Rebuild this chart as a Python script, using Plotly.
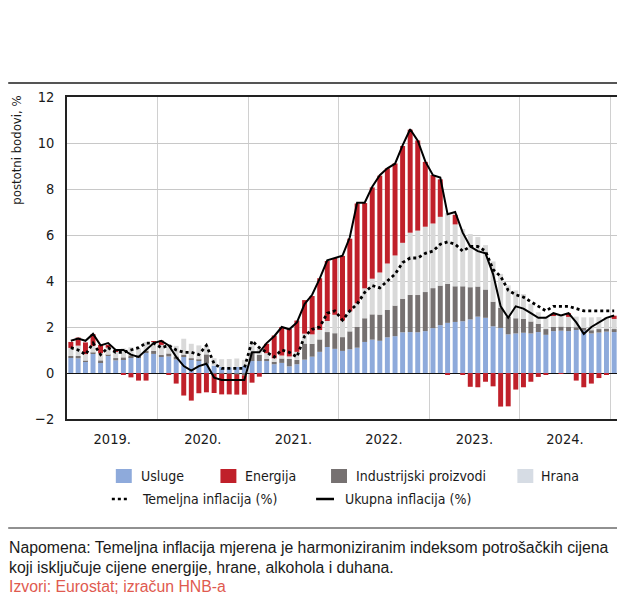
import plotly.graph_objects as go
import pandas as pd

# Monthly categories: Jan 2019 - Jan 2025
months = pd.date_range("2019-01-01", periods=73, freq="MS")

# Contributions to inflation, percentage points
usluge = [0.66, 0.64, 0.48, 0.84, 0.47, 0.74, 0.55, 0.60, 0.69, 0.69, 0.87, 0.83,
          0.70, 0.72, 0.59, 0.72, 0.59, 0.54, 0.41, 0.32, 0.26, 0.25, 0.27, 0.32,
          0.52, 0.52, 0.52, 0.38, 0.44, 0.29, 0.38, 0.58, 0.71, 0.92, 1.13, 1.05,
          0.96, 1.03, 1.10, 1.35, 1.45, 1.40, 1.55, 1.60, 1.77, 1.78, 1.77, 1.82,
          1.95, 2.08, 2.18, 2.22, 2.25, 2.33, 2.45, 2.40, 2.03, 1.96, 1.68, 1.72,
          1.75, 1.72, 1.78, 1.66, 1.82, 1.84, 1.82, 1.87, 1.84, 1.72, 1.76, 1.80,
          1.78]
energija = [0.26, 0.35, 0.51, 0.51, 0.36, 0.12, 0.05, -0.08, -0.19, -0.33, -0.33, 0.02,
            0.19, -0.08, -0.46, -0.98, -1.20, -0.88, -0.84, -0.84, -0.90, -0.90, -0.88, -0.84,
            -0.42, -0.16, 0.41, 0.99, 1.24, 1.20, 1.36, 1.46, 1.67, 2.25, 2.61, 2.47,
            2.81, 3.16, 4.34, 3.71, 3.97, 4.21, 4.14, 4.00, 4.21, 4.48, 3.92, 2.82,
            2.11, 1.63, -0.08, 0.42, -0.08, -0.60, -0.62, -0.38, -0.58, -1.46, -1.45, -0.72,
            -0.62, -0.38, -0.17, -0.07, 0.04, -0.03, 0.16, -0.33, -0.62, -0.46, -0.22, -0.05,
            0.14]
industrijski = [0.08, 0.10, 0.05, 0.05, 0.08, 0.05, 0.10, 0.08, 0.08, 0.08, 0.10, 0.13,
                0.08, 0.13, 0.13, 0.08, 0.05, 0.05, 0.40, -0.03, -0.03, -0.03, -0.06, -0.10,
                0.38, 0.27, 0.10, 0.11, 0.19, 0.32, 0.19, 0.70, 0.56, 0.54, 0.65, 0.68,
                0.60, 0.78, 0.90, 1.03, 1.10, 1.14, 1.19, 1.33, 1.46, 1.62, 1.62, 1.70,
                1.74, 1.72, 1.70, 1.55, 1.52, 1.40, 1.31, 1.23, 1.07, 0.88, 0.76, 0.66,
                0.60, 0.52, 0.36, 0.25, 0.18, 0.18, 0.18, 0.12, 0.12, 0.14, 0.15, 0.13,
                0.13]
hrana = [0.35, 0.45, 0.29, 0.29, 0.31, 0.31, 0.27, 0.39, 0.35, 0.29, 0.37, 0.39,
         0.44, 0.40, 0.46, 0.69, 0.63, 0.61, 0.38, 0.32, 0.34, 0.36, 0.36, 0.25,
         0.30, 0.28, 0.24, 0.15, 0.13, 0.11, 0.35, 0.43, 0.41, 0.41, 0.48, 0.80,
         0.72, 0.87, 1.03, 1.30, 1.55, 1.83, 2.02, 2.18, 2.43, 2.70, 2.80, 2.84,
         2.81, 2.99, 3.08, 2.69, 2.49, 2.31, 2.15, 1.93, 1.75, 1.47, 1.37, 1.21,
         1.08, 0.77, 0.50, 0.54, 0.50, 0.48, 0.44, 0.46, 0.46, 0.56, 0.52, 0.50,
         0.44]

# Inflation rates, %
temeljna = [1.1, 1.0, 0.8, 1.3, 0.8, 1.1, 0.9, 0.9, 1.0, 1.1, 1.3, 1.3,
            1.1, 1.2, 1.0, 0.9, 0.9, 0.8, 1.2, 0.4, 0.2, 0.2, 0.2, 0.2,
            1.4, 1.1, 0.9, 0.7, 1.0, 0.9, 0.7, 1.6, 1.9, 2.0, 2.6, 2.7,
            2.3, 2.7, 3.0, 3.5, 3.8, 3.7, 4.0, 4.3, 4.8, 5.0, 5.0, 5.2,
            5.3, 5.6, 5.7, 5.6, 5.3, 5.5, 5.5, 5.3, 4.5, 4.2, 3.6, 3.4,
            3.3, 3.1, 2.9, 2.7, 2.9, 2.9, 2.9, 2.8, 2.7, 2.7, 2.7, 2.7,
            2.7]
ukupna = [1.4, 1.5, 1.4, 1.7, 1.2, 1.3, 1.0, 1.0, 0.8, 0.7, 1.0, 1.3,
          1.4, 1.2, 0.7, 0.3, 0.1, 0.3, 0.4, -0.2, -0.3, -0.3, -0.3, -0.3,
          0.9, 0.9, 1.3, 1.6, 2.0, 1.9, 2.2, 3.0, 3.4, 4.1, 4.9, 5.0,
          5.1, 5.9, 7.4, 7.4, 8.1, 8.6, 8.9, 9.1, 9.9, 10.6, 10.1, 9.2,
          8.6, 8.5, 6.9, 7.0, 6.1, 5.5, 5.3, 5.2, 4.3, 2.9, 2.4, 2.9,
          2.8, 2.6, 2.4, 2.4, 2.6, 2.5, 2.6, 2.2, 1.7, 2.0, 2.2, 2.4,
          2.5]

y_ticks = [-2, 0, 2, 4, 6, 8, 10, 12]

C_USL = "#8eaadb"
C_ENE = "#c0202a"
C_IND = "#767171"
C_HRA = "#d9d9d9"

NARROW = "Liberation Sans Narrow, DejaVu Sans Condensed, Arial Narrow, sans-serif"
REG = "Liberation Sans, Arial, Helvetica, sans-serif"

BAR_W = 20 * 24 * 3600 * 1000  # bar width in ms

fig = go.Figure()
for name, vals, col in [("Usluge", usluge, C_USL),
                        ("Industrijski proizvodi", industrijski, C_IND),
                        ("Hrana", hrana, C_HRA),
                        ("Energija", energija, C_ENE)]:
    fig.add_bar(x=months, y=vals, name=name, marker_color=col, marker_line_width=0,
                xperiod="M1", xperiodalignment="middle", width=BAR_W)

fig.add_scatter(x=months, y=temeljna, name="Temeljna inflacija (%)", mode="lines",
                xperiod="M1", xperiodalignment="middle",
                line=dict(color="black", width=2.8, dash="dot"))
fig.add_scatter(x=months, y=ukupna, name="Ukupna inflacija (%)", mode="lines",
                xperiod="M1", xperiodalignment="middle",
                line=dict(color="black", width=2))

# page body has an 8px margin: figure coordinates are page coordinates minus OFF
OFF = 8
W, H = 617, 588
L, R, T, B = 67 - OFF, 5, 97 - OFF, 177
PW, PH = W - L - R, H - T - B


def px(x):
    return (x - OFF - L) / PW


def py(y):
    return (H - B - (y - OFF)) / PH


shapes = []
annotations = []

# horizontal rules
shapes.append(dict(type="line", xref="paper", yref="paper", x0=px(8), x1=px(620),
                   y0=py(83), y1=py(83), line=dict(color="#555555", width=2)))
shapes.append(dict(type="line", xref="paper", yref="paper", x0=px(8), x1=px(620),
                   y0=py(528), y1=py(528), line=dict(color="#222222", width=1)))

# custom legend
row1, row2 = 476, 499
LEG_FONT = dict(family=NARROW, size=14, color="#1a1a1a")
for x0, col, txt, tx in [(116, C_USL, "Usluge", 139), (221, C_ENE, "Energija", 244),
                         (332, C_IND, "Industrijski proizvodi", 355),
                         (519, "#d6dce4", "Hrana", 541)]:
    shapes.append(dict(type="rect", xref="paper", yref="paper", x0=px(x0), x1=px(x0 + 16),
                       y0=py(row1 - 7), y1=py(row1 + 7), fillcolor=col, line_width=0))
    annotations.append(dict(text=txt, xref="paper", yref="paper", x=px(tx), y=py(row1),
                            xanchor="left", yanchor="middle", showarrow=False, font=LEG_FONT))
shapes.append(dict(type="line", xref="paper", yref="paper", x0=px(112), x1=px(129),
                   y0=py(row2), y1=py(row2), line=dict(color="black", width=2.6, dash="dot")))
annotations.append(dict(text="Temeljna inflacija (%)", xref="paper", yref="paper",
                        x=px(140), y=py(row2), xanchor="left", yanchor="middle",
                        showarrow=False, font=LEG_FONT))
shapes.append(dict(type="line", xref="paper", yref="paper", x0=px(317), x1=px(335),
                   y0=py(row2), y1=py(row2), line=dict(color="black", width=2.5)))
annotations.append(dict(text="Ukupna inflacija (%)", xref="paper", yref="paper",
                        x=px(344), y=py(row2), xanchor="left", yanchor="middle",
                        showarrow=False, font=LEG_FONT))

# y-axis title
annotations.append(dict(text="postotni bodovi, %", xref="paper", yref="paper",
                        x=px(16), y=py(95), xanchor="center", yanchor="top",
                        textangle=-90, showarrow=False, borderpad=0,
                        font=dict(family=NARROW, size=13, color="#1a1a1a")))

# notes
for txt, yy, col in [("Napomena: Temeljna inflacija mjerena je harmoniziranim indeksom potrošačkih cijena", 547, "#1a1a1a"),
                     ("koji isključuje cijene energije, hrane, alkohola i duhana.", 567, "#1a1a1a"),
                     ("Izvori: Eurostat; izračun HNB-a", 586, "#e05a4f")]:
    annotations.append(dict(text=txt, xref="paper", yref="paper", x=px(8), y=py(yy),
                            xanchor="left", yanchor="middle", showarrow=False, borderpad=0,
                            font=dict(family=REG, size=15.8, color=col)))

fig.update_layout(
    width=W, height=H,
    margin=dict(l=L, r=R, t=T, b=B, pad=0),
    paper_bgcolor="white", plot_bgcolor="white",
    barmode="relative", bargap=0.3,
    showlegend=False,
    shapes=shapes, annotations=annotations,
    font=dict(family=NARROW, size=14, color="#1a1a1a"),
)
fig.update_xaxes(
    type="date", range=["2019-01-01", "2025-02-01"],
    tick0="2019-01-01", dtick="M12", ticklabelmode="period", tickformat="%Y.",
    showgrid=True, gridcolor="#d0d0d0", gridwidth=1.2,
    showline=True, mirror=True, linecolor="#222222", linewidth=1.5,
    ticks="", ticklabelstandoff=6,
    tickfont=dict(family=NARROW, size=14.5, color="#1a1a1a"),
)
fig.update_yaxes(
    range=[-2, 12], tickvals=y_ticks,
    showgrid=True, gridcolor="#c8c8c8", gridwidth=1.2,
    zeroline=True, zerolinecolor="#111111", zerolinewidth=1.2,
    showline=True, mirror=True, linecolor="#222222", linewidth=1.5,
    ticks="", ticklabelstandoff=8,
    tickfont=dict(family=NARROW, size=14.5, color="#1a1a1a"),
)

fig.write_html("out.html")
